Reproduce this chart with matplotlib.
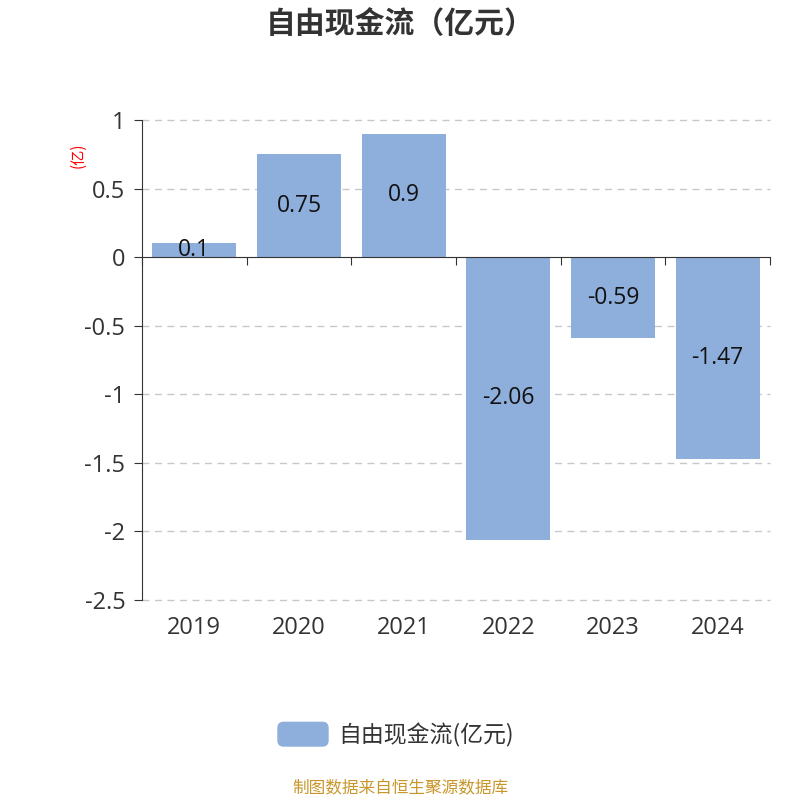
import matplotlib
matplotlib.use("Agg")
import matplotlib.pyplot as plt
from matplotlib.patches import FancyBboxPatch

plt.rcParams["font.family"] = ["Noto Sans CJK SC", "DejaVu Sans"]
NUM_FONT = ["Open Sans", "Noto Sans CJK SC"]

years = ["2019", "2020", "2021", "2022", "2023", "2024"]
values = [0.1, 0.75, 0.9, -2.06, -0.59, -1.47]
labels = ["0.1", "0.75", "0.9", "-2.06", "-0.59", "-1.47"]
yticks = [1, 0.5, 0, -0.5, -1, -1.5, -2, -2.5]
ytick_labels = ["1", "0.5", "0", "-0.5", "-1", "-1.5", "-2", "-2.5"]

BAR = "#8eaedb"
TXT = "#333333"

fig = plt.figure(figsize=(8, 8), dpi=100)
ax = fig.add_axes([0.1775, 0.25, 0.785, 0.60])

x = list(range(len(years)))
ax.bar(x, values, width=0.8, color=BAR, zorder=3)
for xi, v, lab in zip(x, values, labels):
    ax.text(xi, v / 2, lab, ha="center", va="center", fontsize=16.5,
            color="#111111", zorder=4, family=NUM_FONT)

ax.set_xlim(-0.5, len(years) - 0.5)
ax.set_ylim(-2.5, 1)
ax.set_yticks(yticks)
ax.set_yticklabels(ytick_labels, fontsize=17, color=TXT, family=NUM_FONT)
for t in yticks:
    if t != 0:
        ax.axhline(t, color="#c8c8c8", lw=1, ls=(0, (5, 4)), zorder=1,
                   clip_on=False)

# x axis line sits at zero, ticks at category boundaries
ax.spines["bottom"].set_position(("data", 0))
ax.spines["top"].set_visible(False)
ax.spines["right"].set_visible(False)
ax.spines["left"].set_color(TXT)
ax.spines["bottom"].set_color(TXT)
ax.spines["left"].set_zorder(5)
ax.spines["bottom"].set_zorder(5)
ax.set_xticks([i - 0.5 for i in range(len(years) + 1)])
ax.set_xticklabels([])
ax.tick_params(axis="x", length=6, color=TXT, direction="out")
ax.tick_params(axis="y", length=6, color=TXT, pad=6)
for xi, yr in zip(x, years):
    ax.text(xi, -0.034, yr, transform=ax.get_xaxis_transform(), ha="center",
            va="top", fontsize=17, color=TXT, family=NUM_FONT)

fig.text(0.097, 0.806, "(亿)", rotation=90, ha="center", va="center",
         fontsize=11, color="red")

fig.text(0.5, 0.97, "自由现金流（亿元）", ha="center", va="center",
         fontsize=21.5, fontweight="bold", color=TXT)

# legend
patch = FancyBboxPatch((0.3475, 0.0675), 0.0625, 0.0295,
                       boxstyle="round,pad=0,rounding_size=0.007",
                       transform=fig.transFigure, color=BAR)
fig.patches.append(patch)
fig.text(0.4225, 0.081, "自由现金流(亿元)", ha="left", va="center",
         fontsize=16.5, color=TXT)

fig.text(0.5, 0.014, "制图数据来自恒生聚源数据库", ha="center", va="center",
         fontsize=12, color="#c8962a")

fig.savefig("out.png", dpi=100)
